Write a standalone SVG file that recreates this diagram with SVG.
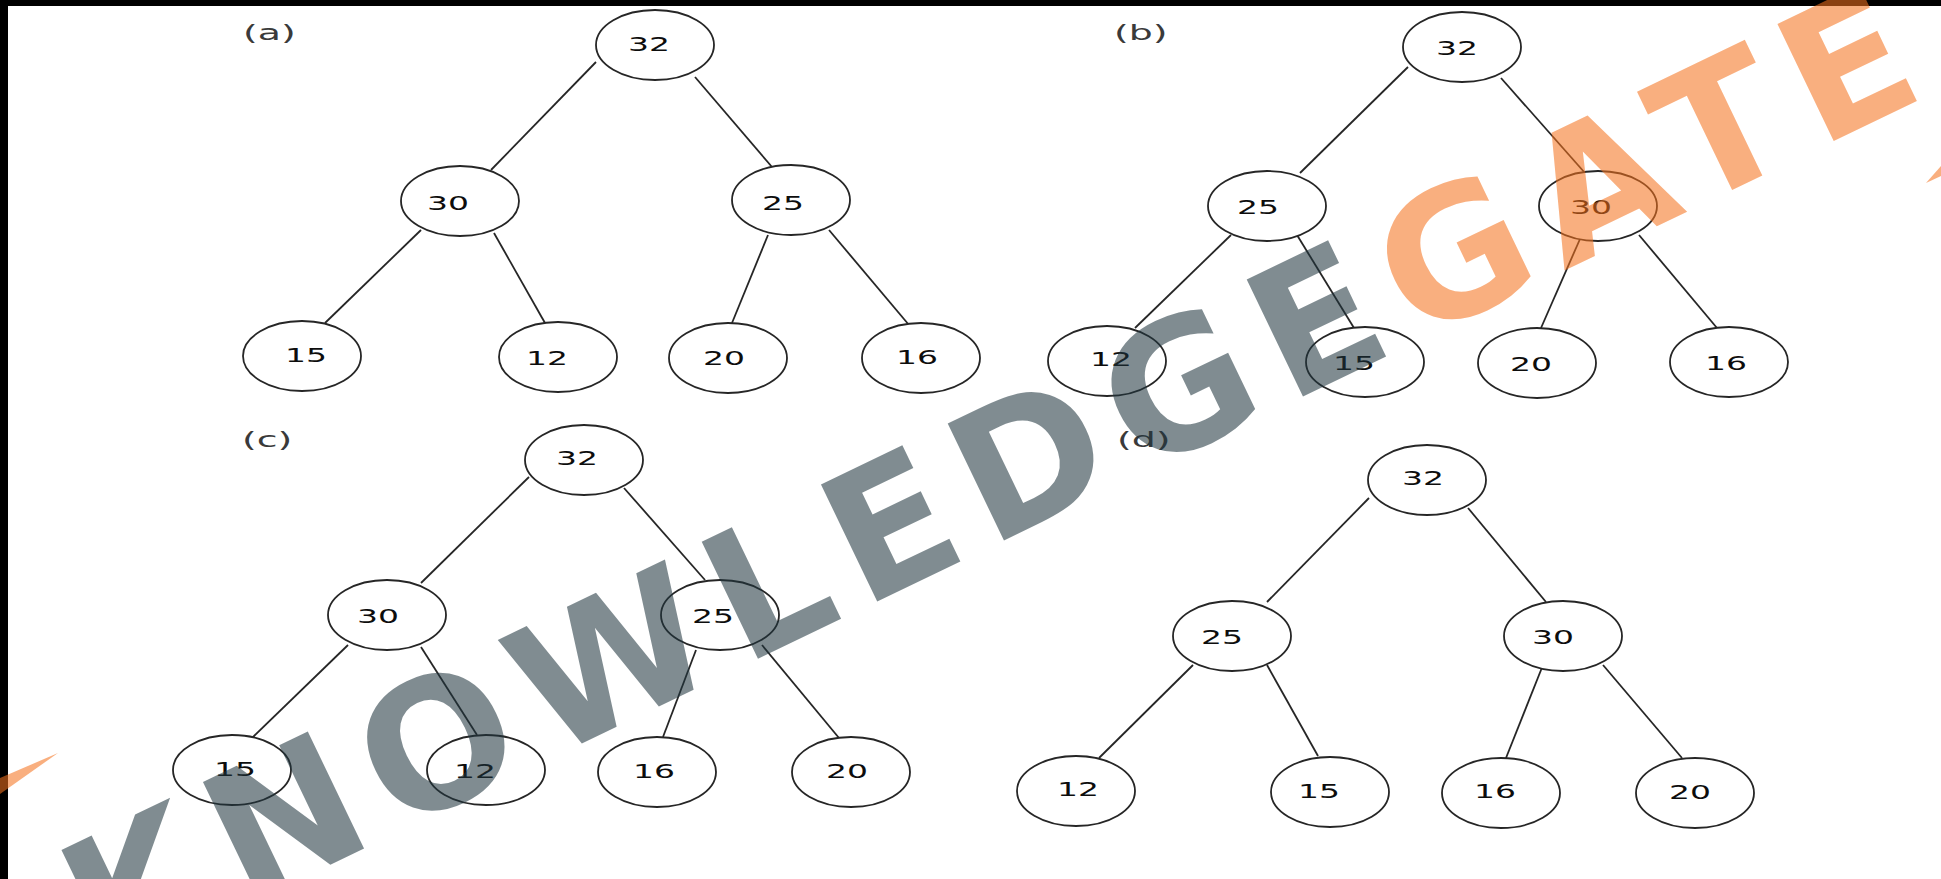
<svg xmlns="http://www.w3.org/2000/svg" width="1941" height="879" viewBox="0 0 1941 879">
<style>
.e{fill:#fff;stroke:#262626;stroke-width:1.8}
.c line{stroke:#262626;stroke-width:1.8}
.t{font-family:"DejaVu Sans",Verdana,sans-serif;font-size:20px;fill:#0d0d0d;text-anchor:middle}
.lb{font-family:"DejaVu Sans",Verdana,sans-serif;font-size:22px;fill:#3a3a3a}
.wm{font-family:"DejaVu Sans",sans-serif;font-weight:bold;font-size:178px;letter-spacing:19px}
.g{fill:#20353d;fill-opacity:.57}
.o{fill:#f5721e;fill-opacity:.57}
</style>
<rect width="1941" height="879" fill="#fff"/>
<rect x="0" y="0" width="1941" height="6" fill="#000"/>
<rect x="0" y="0" width="8" height="879" fill="#000"/>

<g id="labels">
<text class="lb" transform="translate(243,40) scale(1.72,1)">(a)</text>
<text class="lb" transform="translate(1114,40) scale(1.72,1)">(b)</text>
<text class="lb" transform="translate(242,447) scale(1.72,1)">(c)</text>
<text class="lb" transform="translate(1117,447) scale(1.72,1)">(d)</text>
</g>

<g id="connectors" class="c">
<line x1="596" y1="62" x2="491" y2="170"/>
<line x1="695" y1="77" x2="772" y2="167"/>
<line x1="421" y1="230" x2="325" y2="323"/>
<line x1="494" y1="233" x2="545" y2="323"/>
<line x1="768" y1="235" x2="732" y2="323"/>
<line x1="829" y1="230" x2="909" y2="325"/>

<line x1="1408" y1="67" x2="1300" y2="173"/>
<line x1="1501" y1="78" x2="1585" y2="173"/>
<line x1="1231" y1="235" x2="1135" y2="328"/>
<line x1="1297" y1="235" x2="1354" y2="328"/>
<line x1="1580" y1="239" x2="1541" y2="328"/>
<line x1="1639" y1="235" x2="1717" y2="328"/>

<line x1="529" y1="477" x2="421" y2="583"/>
<line x1="624" y1="488" x2="705" y2="580"/>
<line x1="348" y1="645" x2="252" y2="738"/>
<line x1="421" y1="647" x2="477" y2="735"/>
<line x1="696" y1="650" x2="663" y2="737"/>
<line x1="762" y1="645" x2="839" y2="738"/>

<line x1="1369" y1="498" x2="1267" y2="602"/>
<line x1="1468" y1="508" x2="1546" y2="602"/>
<line x1="1193" y1="665" x2="1099" y2="758"/>
<line x1="1267" y1="665" x2="1318" y2="756"/>
<line x1="1543" y1="665" x2="1506" y2="758"/>
<line x1="1603" y1="665" x2="1682" y2="758"/>
</g>

<g id="tree-a">
<g id="a32"><ellipse class="e" cx="655" cy="45" rx="59" ry="35"/><text class="t" transform="translate(649,50.5) scale(1.65,1)">32</text></g>
<g id="a30"><ellipse class="e" cx="460" cy="201" rx="59" ry="35"/><text class="t" transform="translate(448,209.5) scale(1.65,1)">30</text></g>
<g id="a25"><ellipse class="e" cx="791" cy="200" rx="59" ry="35"/><text class="t" transform="translate(783,209.5) scale(1.65,1)">25</text></g>
<g id="a15"><ellipse class="e" cx="302" cy="356" rx="59" ry="35"/><text class="t" transform="translate(306,361.5) scale(1.65,1)">15</text></g>
<g id="a12"><ellipse class="e" cx="558" cy="357" rx="59" ry="35"/><text class="t" transform="translate(547,364.5) scale(1.65,1)">12</text></g>
<g id="a20"><ellipse class="e" cx="728" cy="358" rx="59" ry="35"/><text class="t" transform="translate(724,364.5) scale(1.65,1)">20</text></g>
<g id="a16"><ellipse class="e" cx="921" cy="358" rx="59" ry="35"/><text class="t" transform="translate(917,363.5) scale(1.65,1)">16</text></g>
</g>

<g id="tree-b">
<g id="b32"><ellipse class="e" cx="1462" cy="47" rx="59" ry="35"/><text class="t" transform="translate(1457,54.5) scale(1.65,1)">32</text></g>
<g id="b25"><ellipse class="e" cx="1267" cy="206" rx="59" ry="35"/><text class="t" transform="translate(1258,213.5) scale(1.65,1)">25</text></g>
<g id="b30"><ellipse class="e" cx="1598" cy="206" rx="59" ry="35"/><text class="t" transform="translate(1591,213.5) scale(1.65,1)">30</text></g>
<g id="b12"><ellipse class="e" cx="1107" cy="361" rx="59" ry="35"/><text class="t" transform="translate(1111,365.5) scale(1.65,1)">12</text></g>
<g id="b15"><ellipse class="e" cx="1365" cy="362" rx="59" ry="35"/><text class="t" transform="translate(1354,369.5) scale(1.65,1)">15</text></g>
<g id="b20"><ellipse class="e" cx="1537" cy="363" rx="59" ry="35"/><text class="t" transform="translate(1531,370.5) scale(1.65,1)">20</text></g>
<g id="b16"><ellipse class="e" cx="1729" cy="362" rx="59" ry="35"/><text class="t" transform="translate(1726,369.5) scale(1.65,1)">16</text></g>
</g>

<g id="tree-c">
<g id="c32"><ellipse class="e" cx="584" cy="460" rx="59" ry="35"/><text class="t" transform="translate(577,464.5) scale(1.65,1)">32</text></g>
<g id="c30"><ellipse class="e" cx="387" cy="615" rx="59" ry="35"/><text class="t" transform="translate(378,622.5) scale(1.65,1)">30</text></g>
<g id="c25"><ellipse class="e" cx="720" cy="615" rx="59" ry="35"/><text class="t" transform="translate(713,622.5) scale(1.65,1)">25</text></g>
<g id="c15"><ellipse class="e" cx="232" cy="770" rx="59" ry="35"/><text class="t" transform="translate(235,775.5) scale(1.65,1)">15</text></g>
<g id="c12"><ellipse class="e" cx="486" cy="770" rx="59" ry="35"/><text class="t" transform="translate(475,777.5) scale(1.65,1)">12</text></g>
<g id="c16"><ellipse class="e" cx="657" cy="772" rx="59" ry="35"/><text class="t" transform="translate(654,777.5) scale(1.65,1)">16</text></g>
<g id="c20"><ellipse class="e" cx="851" cy="772" rx="59" ry="35"/><text class="t" transform="translate(847,777.5) scale(1.65,1)">20</text></g>
</g>

<g id="tree-d">
<g id="d32"><ellipse class="e" cx="1427" cy="480" rx="59" ry="35"/><text class="t" transform="translate(1423,484.5) scale(1.65,1)">32</text></g>
<g id="d25"><ellipse class="e" cx="1232" cy="636" rx="59" ry="35"/><text class="t" transform="translate(1222,643.5) scale(1.65,1)">25</text></g>
<g id="d30"><ellipse class="e" cx="1563" cy="636" rx="59" ry="35"/><text class="t" transform="translate(1553,643.5) scale(1.65,1)">30</text></g>
<g id="d12"><ellipse class="e" cx="1076" cy="791" rx="59" ry="35"/><text class="t" transform="translate(1078,795.5) scale(1.65,1)">12</text></g>
<g id="d15"><ellipse class="e" cx="1330" cy="792" rx="59" ry="35"/><text class="t" transform="translate(1319,797.5) scale(1.65,1)">15</text></g>
<g id="d16"><ellipse class="e" cx="1501" cy="793" rx="59" ry="35"/><text class="t" transform="translate(1495,797.5) scale(1.65,1)">16</text></g>
<g id="d20"><ellipse class="e" cx="1695" cy="793" rx="59" ry="35"/><text class="t" transform="translate(1690,798.5) scale(1.65,1)">20</text></g>
</g>

<g id="watermark">
<text class="wm" transform="translate(103,974) rotate(-25.7)"><tspan class="g">KNOWLEDGE</tspan><tspan class="o">GATE</tspan></text>
<polygon class="o" points="0,778 58,753 0,794"/>
<polygon class="o" points="1926,183 1941,166 1941,176"/>
</g>
</svg>
